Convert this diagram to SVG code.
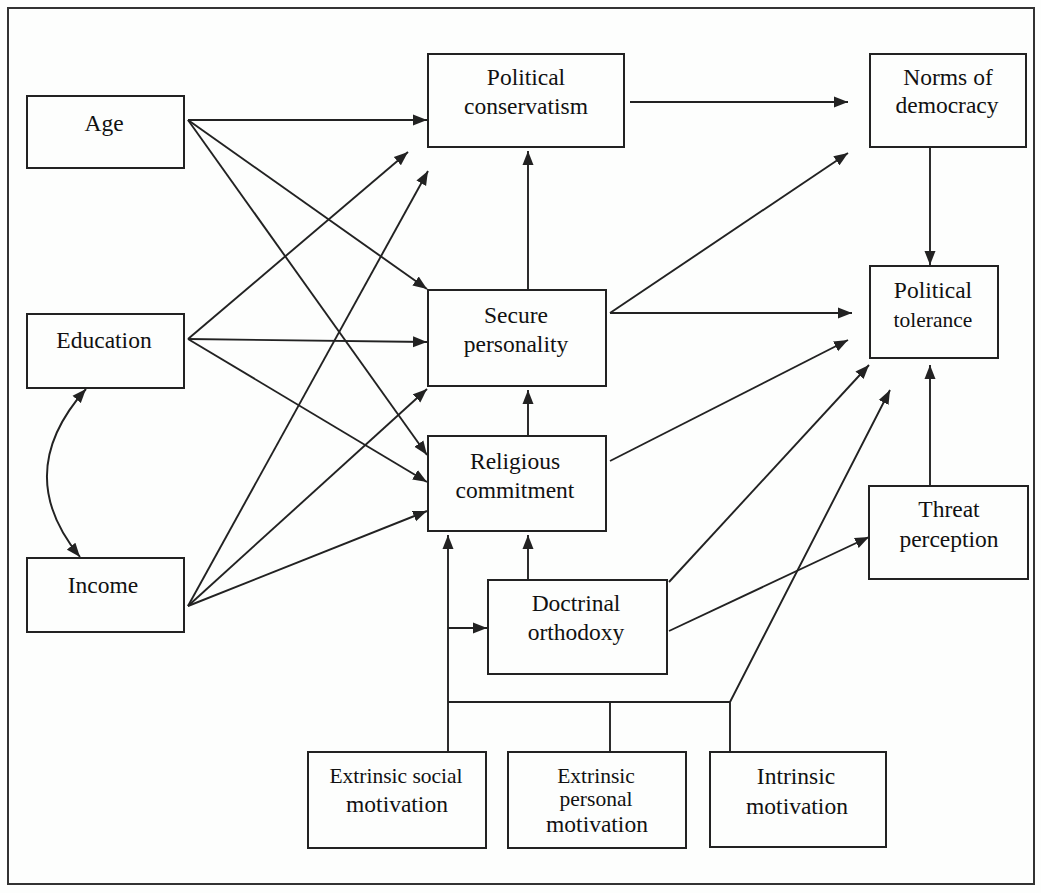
<svg xmlns="http://www.w3.org/2000/svg" width="1041" height="893" viewBox="0 0 1041 893">
<style>
.box{fill:#fdfefd;stroke:#222;stroke-width:2}
.lbl{font-family:"Liberation Serif","Times New Roman",serif;font-size:23.5px;fill:#111;text-anchor:middle}
.sm{font-size:21.5px}
.cn{fill:none;stroke:#222;stroke-width:1.9}
.ar{marker-end:url(#ah)}
</style>
<defs>
<marker id="ah" markerUnits="userSpaceOnUse" viewBox="0 0 15 12" markerWidth="15" markerHeight="12" refX="14" refY="6" orient="auto-start-reverse">
<path d="M0,0.5 L14,6 L0,11.5 z" fill="#222"/>
</marker>
</defs>
<rect x="0" y="0" width="1041" height="893" fill="#fdfefd"/>
<rect x="8" y="8" width="1026" height="876" fill="none" stroke="#333" stroke-width="2"/>
<g id="connectors">
<path class="cn ar" d="M188,120 L427,120"/>
<path class="cn ar" d="M188,120 L427,289"/>
<path class="cn ar" d="M188,120 L427,455"/>
<path class="cn ar" d="M188,339 L408,152"/>
<path class="cn ar" d="M188,339 L427,342"/>
<path class="cn ar" d="M188,339 L427,482"/>
<path class="cn ar" d="M188,606 L428,171"/>
<path class="cn ar" d="M188,606 L427,389"/>
<path class="cn ar" d="M188,606 L427,511"/>
<path class="cn" d="M86,389 Q11,473 80,557" marker-start="url(#ah)" marker-end="url(#ah)"/>
<path class="cn ar" d="M630,102 L848,102"/>
<path class="cn ar" d="M528,290 L528,151"/>
<path class="cn ar" d="M610,313 L848,153"/>
<path class="cn ar" d="M610,313 L852,313"/>
<path class="cn ar" d="M930,148 L930,265"/>
<path class="cn ar" d="M528,436 L528,390"/>
<path class="cn ar" d="M610,461 L848,340"/>
<path class="cn ar" d="M528,580 L528,535"/>
<path class="cn ar" d="M669,582 L869,365"/>
<path class="cn ar" d="M669,631 L869,537"/>
<path class="cn ar" d="M930,486 L930,365"/>
<path class="cn ar" d="M448,752 L448,535"/>
<path class="cn ar" d="M448,628 L487,628"/>
<path class="cn" d="M448,702 L730,702"/>
<path class="cn" d="M610,752 L610,702"/>
<path class="cn ar" d="M730,752 L730,702 L890,390"/>
</g>
<g id="age"><rect class="box" x="27" y="96" width="157" height="72"/><text class="lbl" x="104" y="131">Age</text></g>
<g id="education"><rect class="box" x="27" y="314" width="157" height="74"/><text class="lbl" x="104" y="348">Education</text></g>
<g id="income"><rect class="box" x="27" y="558" width="157" height="74"/><text class="lbl" x="103" y="593">Income</text></g>
<g id="political-conservatism"><rect class="box" x="428" y="54" width="196" height="93"/><text class="lbl" x="526" y="85">Political</text><text class="lbl" x="526" y="114">conservatism</text></g>
<g id="norms-of-democracy"><rect class="box" x="870" y="54" width="156" height="93"/><text class="lbl" x="948" y="85">Norms of</text><text class="lbl" x="947" y="113">democracy</text></g>
<g id="political-tolerance"><rect class="box" x="870" y="266" width="128" height="92"/><text class="lbl" x="933" y="298">Political</text><text class="lbl sm" x="933" y="327">tolerance</text></g>
<g id="secure-personality"><rect class="box" x="428" y="290" width="178" height="96"/><text class="lbl" x="516" y="323">Secure</text><text class="lbl" x="516" y="352">personality</text></g>
<g id="religious-commitment"><rect class="box" x="428" y="436" width="178" height="95"/><text class="lbl" x="515" y="469">Religious</text><text class="lbl" x="515" y="498">commitment</text></g>
<g id="threat-perception"><rect class="box" x="869" y="486" width="159" height="93"/><text class="lbl" x="949" y="517">Threat</text><text class="lbl" x="949" y="547">perception</text></g>
<g id="doctrinal-orthodoxy"><rect class="box" x="488" y="580" width="179" height="94"/><text class="lbl" x="576" y="611">Doctrinal</text><text class="lbl" x="576" y="640">orthodoxy</text></g>
<g id="extrinsic-social-motivation"><rect class="box" x="308" y="752" width="178" height="96"/><text class="lbl sm" x="396" y="783">Extrinsic social</text><text class="lbl" x="397" y="812">motivation</text></g>
<g id="extrinsic-personal-motivation"><rect class="box" x="508" y="752" width="178" height="96"/><text class="lbl sm" x="596" y="783">Extrinsic</text><text class="lbl sm" x="596" y="806">personal</text><text class="lbl" x="597" y="832">motivation</text></g>
<g id="intrinsic-motivation"><rect class="box" x="710" y="752" width="176" height="95"/><text class="lbl" x="796" y="784">Intrinsic</text><text class="lbl" x="797" y="814">motivation</text></g>
</svg>
